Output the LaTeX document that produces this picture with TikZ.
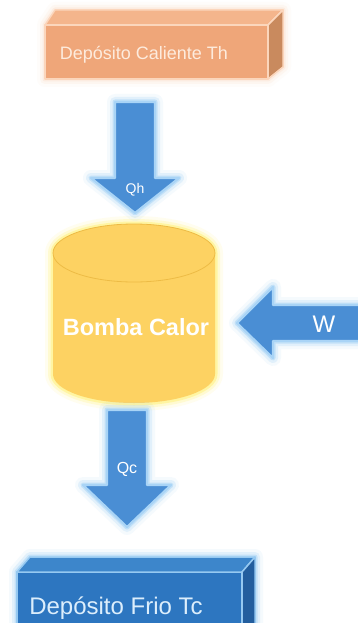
\documentclass[tikz,border=0pt]{standalone}
\usepackage{fontspec}
\setmainfont{Liberation Sans}
\definecolor{hotfront}{HTML}{EFA679}
\definecolor{hottop}{HTML}{F4B58C}
\definecolor{hotside}{HTML}{C98A5E}
\definecolor{hotedge}{HTML}{FBD6BC}
\definecolor{hottext}{HTML}{FDEBDD}
\definecolor{arrowblue}{HTML}{4A8ED4}
\definecolor{arrowedge}{HTML}{A9D4F6}
\definecolor{glowblue}{HTML}{9ECFF5}
\definecolor{pumpfill}{HTML}{FDD262}
\definecolor{pumpedge}{HTML}{EDBB45}
\definecolor{glowyellow}{HTML}{FFF06A}
\definecolor{coldfront}{HTML}{2D76C0}
\definecolor{coldtop}{HTML}{3D86CB}
\definecolor{coldside}{HTML}{235E9E}
\definecolor{coldedge}{HTML}{96C9F1}
\definecolor{coldtext}{HTML}{DCEEFC}
\definecolor{glowpeach}{HTML}{FCE2CF}
\tikzset{
  glow/.style={
    preaction={draw=#1,draw opacity=0.10,line width=16pt,line join=round},
    preaction={draw=#1,draw opacity=0.22,line width=10pt,line join=round},
    preaction={draw=#1,draw opacity=0.45,line width=5pt,line join=round}},
  blockarrow/.style={fill=arrowblue,draw=arrowedge,line width=2.2pt,line join=round,glow=glowblue},
  arrowlabel/.style={text=white,inner sep=0pt},
}
\begin{document}
\begin{tikzpicture}[x=1pt,y=-1pt]
\useasboundingbox[fill=white] (0,0) rectangle (358,623);
\clip (0,0) rectangle (358,623);

% hot reservoir (box)
\fill[glowpeach,glow=glowpeach] (45,25) -- (55,10) -- (283,10) -- (283,67) -- (268,79) -- (45,79) -- cycle;
\filldraw[fill=hotfront,draw=hotedge,line width=1.5pt,line join=round] (45,25) rectangle (268,79);
\filldraw[fill=hottop,draw=hotedge,line width=1.5pt,line join=round] (45,25) -- (55,10) -- (283,10) -- (268,25) -- cycle;
\filldraw[fill=hotside,draw=hotedge,line width=1.5pt,line join=round] (268,25) -- (283,10) -- (283,67) -- (268,79) -- cycle;
\node[text=hottext,inner sep=0pt] (hot) at (144,55) {\fontsize{18}{20}\selectfont Depósito Caliente Th};

% heat pump (cylinder)
\path[fill=pumpfill,glow=glowyellow]
  (53,253) -- (53,374) arc[start angle=180,end angle=0,x radius=81,y radius=29]
  -- (215,253) arc[start angle=0,end angle=-180,x radius=81,y radius=29] -- cycle;
\draw[pumpedge,line width=0.8pt] (134,253) ellipse[x radius=81,y radius=29];
\node[text=white,inner sep=0pt] (pump) at (136,327) {\fontsize{23.5}{26}\selectfont\bfseries Bomba Calor};

% cold reservoir (box)
\fill[glowblue,glow=glowblue] (17,572) -- (30,557) -- (255,557) -- (255,640) -- (17,640) -- cycle;
\filldraw[fill=coldfront,draw=coldedge,line width=1.5pt,line join=round] (17,572) rectangle (242,640);
\filldraw[fill=coldtop,draw=coldedge,line width=1.5pt,line join=round] (17,572) -- (30,557) -- (255,557) -- (242,572) -- cycle;
\filldraw[fill=coldside,draw=coldedge,line width=1.5pt,line join=round] (242,572) -- (255,557) -- (255,625) -- (242,640) -- cycle;
\node[text=coldtext,inner sep=0pt] (cold) at (116,608) {\fontsize{24}{26}\selectfont Depósito Frio Tc};

% heat flow Qh into the pump
\path[blockarrow] (115,102) -- (155,102) -- (155,178) -- (179,178) -- (135,213) -- (91,178) -- (115,178) -- cycle;
\node[arrowlabel] (qh) at (135,190) {\fontsize{14}{16}\selectfont Qh};

% heat flow Qc out of the pump
\path[blockarrow] (107,410) -- (147,410) -- (147,485) -- (171,485) -- (127,527) -- (83,485) -- (107,485) -- cycle;
\node[arrowlabel] (qc) at (127,469) {\fontsize{16}{18}\selectfont Qc};

% work W into the pump
\path[blockarrow] (237,323) -- (273,287) -- (273,305) -- (375,305) -- (375,341) -- (273,341) -- (273,358) -- cycle;
\node[arrowlabel] (w) at (324,324) {\fontsize{24}{26}\selectfont W};
\end{tikzpicture}
\end{document}
